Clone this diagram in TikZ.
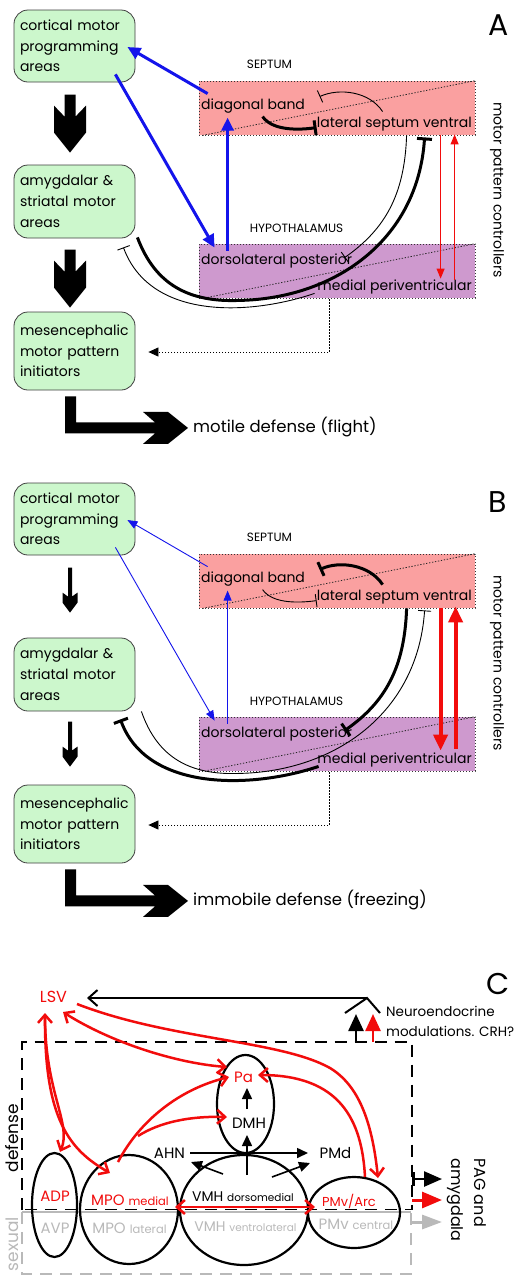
\documentclass[tikz,border=0pt]{standalone}
\usepackage{fontspec}
\setmainfont{Poppins}
\usetikzlibrary{arrows.meta,calc,shapes.geometric}
\definecolor{boxgreen}{RGB}{204,247,204}
\definecolor{septfill}{RGB}{250,160,160}
\definecolor{hypfill}{RGB}{206,153,206}
\definecolor{myblue}{RGB}{20,20,235}
\definecolor{myred}{RGB}{242,12,12}
\definecolor{mygray}{RGB}{185,185,185}
\newcommand\bigC{\fontsize{15}{18}\selectfont}
\newcommand\smC{\fontsize{11.5}{14}\selectfont}
\newcommand\smD{\fontsize{10.5}{13}\selectfont}
\newcommand\fatarrow[1]{\fill #1 ++(-5.5,-58) -- ++(11,0) -- ++(0,22) -- ++(10.5,-11) -- ++(0,27) -- ++(-16,20) -- ++(-16,-20) -- ++(0,-27) -- ++(10.5,11) -- cycle;}
\newcommand\slimarrow[1]{\fill #1 ++(-2,-45) -- ++(4,0) -- ++(0,29) -- ++(5.5,-4) -- ++(0,10) -- ++(-7.5,10) -- ++(-7.5,-10) -- ++(0,-10) -- ++(5.5,4) -- cycle;}
\newcommand\Larrow[1]{\fill #1 -- ++(11,0) -- ++(0,26) -- ++(79,0) -- ++(-12,-10.5) -- ++(25,0) -- ++(20,16) -- ++(-20,16) -- ++(-25,0) -- ++(12,-10.5) -- ++(-90,0) -- cycle;}
\begin{document}
\begin{tikzpicture}[x=1pt,y=-1pt,
  box/.style={draw=black!75, fill=boxgreen, rounded corners=14pt, line width=0.8pt, text width=109pt, align=left, inner xsep=6pt, inner ysep=2pt, font=\fontsize{14}{20.7}\selectfont},
  region/.style={draw=black!80, line width=0.8pt, dash pattern=on 1.3pt off 1.7pt, minimum width=276pt, minimum height=54pt, inner sep=0pt},
  dotline/.style={black!85, line width=0.8pt, dash pattern=on 1.3pt off 1.7pt},
  lbl/.style={font=\fontsize{14}{17}\selectfont, inner sep=1pt},
  capl/.style={font=\fontsize{12}{14}\selectfont, inner sep=1pt},
  letter/.style={font=\fontsize{30}{30}\selectfont, inner sep=0pt},
  outc/.style={font=\fontsize{16.5}{20}\selectfont, inner sep=1pt},
  inhthin/.style={line width=0.9pt, -{Bar[width=13pt]}},
  inhthick/.style={line width=3pt, -{Bar[width=15pt]}},
  bluethick/.style={myblue, line width=3pt, -{Triangle[length=13pt,width=12pt]}},
  bluethin/.style={myblue, line width=0.9pt, -{Triangle[length=10pt,width=8pt]}},
  redthin/.style={myred, line width=1pt, -{Triangle[length=10pt,width=8pt]}},
  redthick/.style={myred, line width=4pt, -{Triangle[length=16pt,width=14pt]}},
  dotarrow/.style={line width=0.8pt, dash pattern=on 1.3pt off 1.7pt, -{Triangle[length=10pt,width=9pt]}},
  ell/.style={ellipse, draw, line width=2.2pt, inner sep=0pt},
  redc/.style={myred, line width=2.5pt},
  blk/.style={line width=1.6pt, -{Triangle[length=11pt,width=10pt]}},
  ctext/.style={inner sep=1pt, font=\bigC}
]
\useasboundingbox (0,0) rectangle (514,1280);
\fill[white] (0,0) rectangle (514,1280);

% ================= PANEL A =================
\node[box, minimum height=72pt] (a1) at (74.5,46) {cortical motor\\programming\\areas};
\node[box, minimum height=73pt] (a2) at (74.5,201.5) {amygdalar \&\\striatal motor\\areas};
\node[box, minimum height=78pt] (a3) at (74.5,351) {mesencephalic\\motor pattern\\initiators};
\fatarrow{($(a2.north)+(-4.5,-12)$)}
\fatarrow{($(a3.north)+(-4.5,-4)$)}
\Larrow{($(a3.south)+(-9.5,6)$)}
\node[outc, anchor=west] (aout) at (192,427.5) {motile defense (flight)};
\node[region, fill=septfill] (asep) at (337,108) {};
\node[region, fill=hypfill] (ahyp) at (337,271) {};
\draw[dotline] ($(asep.south west)+(4,0)$) -- (asep.north east);
\draw[dotline] ($(ahyp.south west)+(9,-1)$) -- (ahyp.north east);
\node[capl] (aseptl) at (269.5,64) {SEPTUM};
\node[capl] (ahypl) at (296.5,228) {HYPOTHALAMUS};
\node[lbl, anchor=west] (adb) at (200,106) {diagonal band};
\node[lbl, anchor=east] (alsv) at (473,124) {lateral septum ventral};
\node[lbl, anchor=west] (adlp) at (200,261) {dorsolateral posterior};
\node[lbl, anchor=east] (ampv) at (473,287) {medial periventricular};
\node[lbl, rotate=-90] (amc) at (497,190) {motor pattern controllers};
\node[letter] (aA) at (499,25) {A};

\draw[bluethick] ($(asep.north west)+(9,13)$) -- ($(a1.east)+(-8,1)$);
\draw[bluethick] ($(a1.south east)+(-20,-8)$) -- ($(ahyp.north west)+(16,4)$);
\draw[bluethick] ($(ahyp.north west)+(29,7)$) -- ($(asep.north west)+(29,37)$);
\draw[inhthin] ($(asep.north west)+(184,31)$) .. controls +(-13,-20) and +(20,-9) .. ($(asep.north west)+(121,16)$);
\draw[inhthick] ($(asep.north west)+(64,36)$) .. controls +(9,13) and +(-22,3) .. ($(asep.north west)+(118,47)$);
\draw[inhthin] ($(asep.south west)+(208,0)$) .. controls +(-2,60) and +(40,-28) .. ($(ahyp.north west)+(146,14)$);
\draw[inhthick] ($(a2.south east)+(2,-1)$) .. controls +(18,48) and +(-50,2) .. ($(ahyp.south west)+(41,2)$) .. controls +(95,-2) and +(-7,103) .. ($(asep.south west)+(226,2)$);
\draw[inhthin] ($(ahyp.south west)+(116,-5)$) .. controls +(-65,22) and +(27,73) .. ($(a2.south east)+(-12,9)$);
\draw[redthin] ($(asep.south west)+(242,0)$) -- ($(ahyp.north west)+(242,35)$);
\draw[redthin] ($(ahyp.north west)+(256,36)$) -- ($(asep.south west)+(256,-1)$);
\draw[dotarrow] ($(ahyp.south west)+(131,1)$) |- ($(a3.east)+(13,1)$);

% ================= PANEL B =================
\node[box, minimum height=72pt] (b1) at (74.5,519) {cortical motor\\programming\\areas};
\node[box, minimum height=73pt] (b2) at (74.5,674.5) {amygdalar \&\\striatal motor\\areas};
\node[box, minimum height=78pt] (b3) at (74.5,824) {mesencephalic\\motor pattern\\initiators};
\slimarrow{($(b2.north)+(-4.5,-25)$)}
\slimarrow{($(b3.north)+(-4.5,-18)$)}
\Larrow{($(b3.south)+(-9.5,6)$)}
\node[outc, anchor=west] (bout) at (192,900.5) {immobile defense (freezing)};
\node[region, fill=septfill] (bsep) at (337,581) {};
\node[region, fill=hypfill] (bhyp) at (337,744) {};
\draw[dotline] ($(bsep.south west)+(4,0)$) -- (bsep.north east);
\draw[dotline] ($(bhyp.south west)+(9,-1)$) -- (bhyp.north east);
\node[capl] (bseptl) at (269.5,537) {SEPTUM};
\node[capl] (bhypl) at (296.5,701) {HYPOTHALAMUS};
\node[lbl, anchor=west] (bdb) at (200,579) {diagonal band};
\node[lbl, anchor=east] (blsv) at (473,597) {lateral septum ventral};
\node[lbl, anchor=west] (bdlp) at (200,734) {dorsolateral posterior};
\node[lbl, anchor=east] (bmpv) at (473,760) {medial periventricular};
\node[lbl, rotate=-90] (bmc) at (497,663) {motor pattern controllers};
\node[letter] (bB) at (498,502) {B};

\draw[bluethin] ($(bsep.north west)+(9,13)$) -- ($(b1.east)+(-8,1)$);
\draw[bluethin] ($(b1.south east)+(-20,-8)$) -- ($(bhyp.north west)+(16,4)$);
\draw[bluethin] ($(bhyp.north west)+(29,7)$) -- ($(bsep.north west)+(29,37)$);
\draw[inhthick] ($(bsep.north west)+(184,31)$) .. controls +(-13,-20) and +(20,-9) .. ($(bsep.north west)+(121,16)$);
\draw[inhthin] ($(bsep.north west)+(64,36)$) .. controls +(9,13) and +(-22,3) .. ($(bsep.north west)+(118,47)$);
\draw[inhthick] ($(bsep.south west)+(208,0)$) .. controls +(-2,60) and +(40,-28) .. ($(bhyp.north west)+(146,14)$);
\draw[inhthin] ($(b2.south east)+(6,0)$) .. controls +(16,46) and +(-50,2) .. ($(bhyp.south west)+(41,2)$) .. controls +(95,-2) and +(-7,103) .. ($(bsep.south west)+(226,2)$);
\draw[inhthick] ($(bhyp.south west)+(120,-5)$) .. controls +(-65,22) and +(27,73) .. ($(b2.south east)+(-15,8)$);
\draw[redthick] ($(bsep.south west)+(242,0)$) -- ($(bhyp.north west)+(242,34)$);
\draw[redthick] ($(bhyp.north west)+(257,32)$) -- ($(bsep.south west)+(257,-2)$);
\draw[dotarrow] ($(bhyp.south west)+(131,1)$) |- ($(b3.east)+(13,1)$);

% ================= PANEL C =================
\node[letter] (cC) at (498,984) {C};
% frames
\draw[mygray, line width=1.6pt, dash pattern=on 12pt off 8pt] (22,1212) -- (22,1274) -- (411,1274) -- (411,1212);
\draw[mygray, line width=1.6pt] (22,1212) -- (411,1212);
\draw[black, line width=1.6pt, dash pattern=on 12pt off 8pt] (22,1209.5) -- (22,1042) -- (412,1042) -- (412,1209.5) -- cycle;
\node[rotate=90, font=\fontsize{17}{20}\selectfont, inner sep=0pt] (tdef) at (12,1138) {defense};
\node[rotate=90, font=\fontsize{17}{20}\selectfont, inner sep=0pt, text=mygray] (tsex) at (12,1244) {sexual};
% ellipses
\node[ell, minimum width=45pt, minimum height=104pt] (adp) at (54.5,1205) {};
\node[ell, minimum width=98pt, minimum height=109pt] (mpo) at (129,1209.5) {};
\node[ell, minimum width=128pt, minimum height=110pt] (vmh) at (244,1210) {};
\node[ell, minimum width=92pt, minimum height=71pt] (pmv) at (354,1212.5) {};
\node[ell, minimum width=57pt, minimum height=98pt] (dmh) at (245.5,1104) {};
% texts
\node[ctext, text=myred, font=\fontsize{16}{18}\selectfont] (lsvC) at (53.5,997) {LSV};
\node[ctext, text=myred] (tadp) at (55,1196) {ADP};
\node[ctext, text=mygray] (tavp) at (55,1228) {AVP};
\node[ctext, text=myred] (tmpo) at (130,1200) {MPO \smC medial};
\node[ctext, text=mygray] (tmpol) at (129.5,1228) {MPO \smC lateral};
\node[ctext, font=\fontsize{14}{17}\selectfont] (tvmh) at (243,1197) {VMH \smD dorsomedial};
\node[ctext, text=mygray, font=\fontsize{14}{17}\selectfont] (tvmhl) at (245.5,1227) {VMH \smD ventrolateral};
\node[ctext, text=myred, font=\fontsize{13}{16}\selectfont] (tpmv) at (349,1201) {PMv/Arc};
\node[ctext, text=mygray] (tpmvc) at (356,1224) {PMv \smC central};
\node[ctext] (tahn) at (169.5,1153) {AHN};
\node[ctext] (tpmd) at (335.5,1153) {PMd};
\node[ctext, text=myred] (tpa) at (243.5,1077) {Pa};
\node[ctext] (tdmh) at (249,1123) {DMH};
\node[inner sep=1pt, anchor=west, align=left, font=\fontsize{13.5}{20}\selectfont] (tneuro) at (385,1021) {Neuroendocrine\\modulations. CRH?};
\node[inner sep=0pt, anchor=west, align=left, rotate=-90, font=\fontsize{16}{23}\selectfont] (tpag) at (466.5,1158) {PAG and\\amygdala};
% neuroendocrine roof and LSV feedback
\coordinate (apex) at (367,998);
\draw[line width=2pt] (345,1013) -- (apex) -- (380,1013);
\draw[line width=2pt, -{Straight Barb[length=9pt,width=16pt]}] (apex) -- ($(lsvC)+(33.5,1)$);
\draw[line width=2.5pt, -{Triangle[length=17pt,width=15pt]}] (356,1042) -- (356,1014);
\draw[myred, line width=2.5pt, -{Triangle[length=17pt,width=15pt]}] (373,1042) -- (373,1014);
% outputs
\draw[line width=2.5pt, {Bar[width=14pt]}-{Triangle[length=18pt,width=15pt]}] (412,1179) -- (442,1179);
\draw[myred, line width=3pt, -{Triangle[length=20pt,width=16pt]}] (412,1200) -- (442,1200);
\draw[mygray, line width=3pt, -{Triangle[length=20pt,width=14pt]}] (412,1222) -- (442,1222);
% black internal arrows
\draw[blk] ($(dmh)+(1.5,5)$) -- ($(dmh)+(1.5,-16)$);
\draw[blk] ($(vmh)+(3,-35)$) -- ($(dmh)+(1.5,31)$);
\draw[blk] ($(tahn)+(20.5,0)$) -- ($(tpmd)+(-27.5,0)$);
\draw[blk] ($(vmh)+(-21,-36)$) -- ($(tahn)+(21.5,9)$);
\draw[blk] ($(vmh)+(28,-33)$) -- ($(tpmd)+(-25.5,10)$);
% red connections
\begin{scope}[>={Straight Barb[length=8pt,width=14pt]}]
\draw[redc, <->] ($(lsvC)+(-8.5,16)$) .. controls +(0,80) and +(12,-28) .. ($(adp.north)+(5.5,0)$);
\draw[redc, ->] ($(lsvC)+(-8.5,18)$) .. controls +(-1,105) and +(-40,-23) .. ($(mpo)+(-19,-36.5)$);
\draw[redc, <->] ($(lsvC)+(9.5,15)$) .. controls +(47,30) and +(-52,-4) .. ($(dmh)+(-18.5,-37)$);
\draw[redc, ->] ($(lsvC)+(23.5,7)$) .. controls +(93,36) and +(-50,-28) .. (330,1068) .. controls +(28,17) and +(-6,-58) .. ($(pmv)+(24,-34.5)$);
\draw[redc, ->] ($(pmv)+(11,-35.5)$) .. controls +(-3,-57) and +(82,0) .. ($(dmh)+(12.5,-29)$);
\draw[redc, ->] ($(mpo)+(-11,-47.5)$) .. controls +(22,-42) and +(-49,12) .. ($(dmh)+(-16.5,-27)$);
\draw[redc, ->] ($(mpo)+(9,-73.5)$) .. controls +(22,-14) and +(-37,-1) .. ($(dmh)+(-18.5,13)$);
\draw[redc, <->] ($(mpo)+(46,-2.5)$) -- ($(pmv)+(-39,-5.5)$);
\end{scope}
\end{tikzpicture}
\end{document}
